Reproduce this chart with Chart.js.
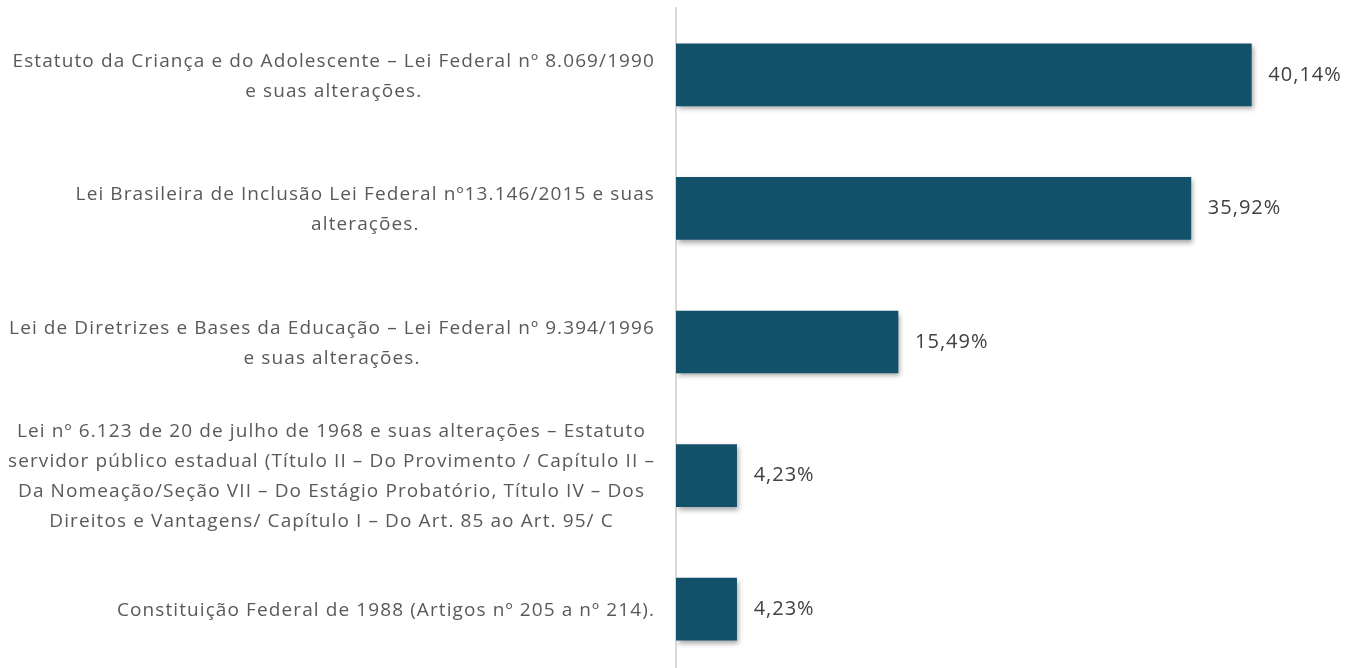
<!DOCTYPE html>
<html><head><meta charset="utf-8">
<script src="https://cdn.jsdelivr.net/npm/chart.js@4/dist/chart.umd.min.js"></script>
<style>html,body{margin:0;padding:0;overflow:hidden;background:#fff}#wrap{position:absolute;left:0;top:0;width:1358px;height:676px}</style>
</head><body><div id="wrap"><canvas id="c" width="1358" height="676"></canvas></div>
<script>
const categories = [
  ["Estatuto da Criança e do Adolescente – Lei Federal nº 8.069/1990", "e suas alterações."],
  ["Lei Brasileira de Inclusão Lei Federal nº13.146/2015 e suas", "alterações."],
  ["Lei de Diretrizes e Bases da Educação – Lei Federal nº 9.394/1996", "e suas alterações."],
  ["Lei nº 6.123 de 20 de julho de 1968 e suas alterações – Estatuto", "servidor público estadual (Título II – Do Provimento / Capítulo II –", "Da Nomeação/Seção VII – Do Estágio Probatório, Título IV – Dos", "Direitos e Vantagens/ Capítulo I – Do Art. 85 ao Art. 95/ C"],
  ["Constituição Federal de 1988 (Artigos nº 205 a nº 214)."]
];
const values = [40.14, 35.92, 15.49, 4.23, 4.23];
const xMin = 0;
const xMax = 45;

const LABEL_FONT = '19px "Open Sans"';
const VALUE_FONT = '20px "Open Sans"';

const shadowPlugin = {
  id: 'shadow',
  beforeDatasetsDraw(chart) {
    const ctx = chart.ctx;
    ctx.save();
    ctx.shadowColor = 'rgba(0,0,0,0.35)';
    ctx.shadowBlur = 5;
    ctx.shadowOffsetX = 2;
    ctx.shadowOffsetY = 3;
  },
  afterDatasetsDraw(chart) {
    chart.ctx.restore();
  }
};

const labelPlugin = {
  id: 'labels',
  afterDraw(chart) {
    const ctx = chart.ctx;
    const yScale = chart.scales.y;
    const area = chart.chartArea;
    ctx.save();
    ctx.font = LABEL_FONT;
    ctx.fillStyle = '#595959';
    ctx.textAlign = 'center';
    ctx.textBaseline = 'alphabetic';
    try { ctx.letterSpacing = '1.1px'; } catch (e) {}
    const rightEdge = area.left - 21;
    const capHalf = 6.8;
    categories.forEach((lines, i) => {
      const y = yScale.getPixelForValue(i);
      const maxW = Math.max(...lines.map(l => ctx.measureText(l).width));
      const cx = rightEdge - maxW / 2;
      const n = lines.length;
      lines.forEach((line, j) => {
        ctx.fillText(line, cx, y + (j - (n - 1) / 2) * 30 + capHalf);
      });
    });
    ctx.restore();
    ctx.save();
    ctx.font = VALUE_FONT;
    ctx.fillStyle = '#404040';
    ctx.textAlign = 'left';
    ctx.textBaseline = 'middle';
    try { ctx.letterSpacing = '1px'; } catch (e) {}
    const meta = chart.getDatasetMeta(0);
    meta.data.forEach((bar, i) => {
      const txt = values[i].toFixed(2).replace('.', ',') + '%';
      ctx.fillText(txt, bar.x + 17, bar.y);
    });
    ctx.restore();
  }
};

function draw() {
  new Chart(document.getElementById('c'), {
    type: 'bar',
    data: {
      labels: categories,
      datasets: [{
        data: values,
        backgroundColor: '#13516B',
        borderWidth: 0,
        barThickness: 62
      }]
    },
    options: {
      indexAxis: 'y',
      responsive: false,
      animation: false,
      layout: { padding: { top: 8, right: 37, bottom: 0, left: 0 } },
      plugins: { legend: { display: false }, tooltip: { enabled: false } },
      scales: {
        x: { min: xMin, max: xMax, display: false },
        y: {
          grid: { display: false, drawTicks: false },
          border: { display: true, color: '#d9d9d9', width: 2 },
          ticks: { display: false },
          afterFit(s) { s.width = 676; }
        }
      }
    },
    plugins: [shadowPlugin, labelPlugin]
  });
}
if (document.fonts && document.fonts.load) {
  Promise.all([document.fonts.load(LABEL_FONT), document.fonts.load(VALUE_FONT)]).then(draw, draw);
} else { draw(); }
</script>
</body></html>
